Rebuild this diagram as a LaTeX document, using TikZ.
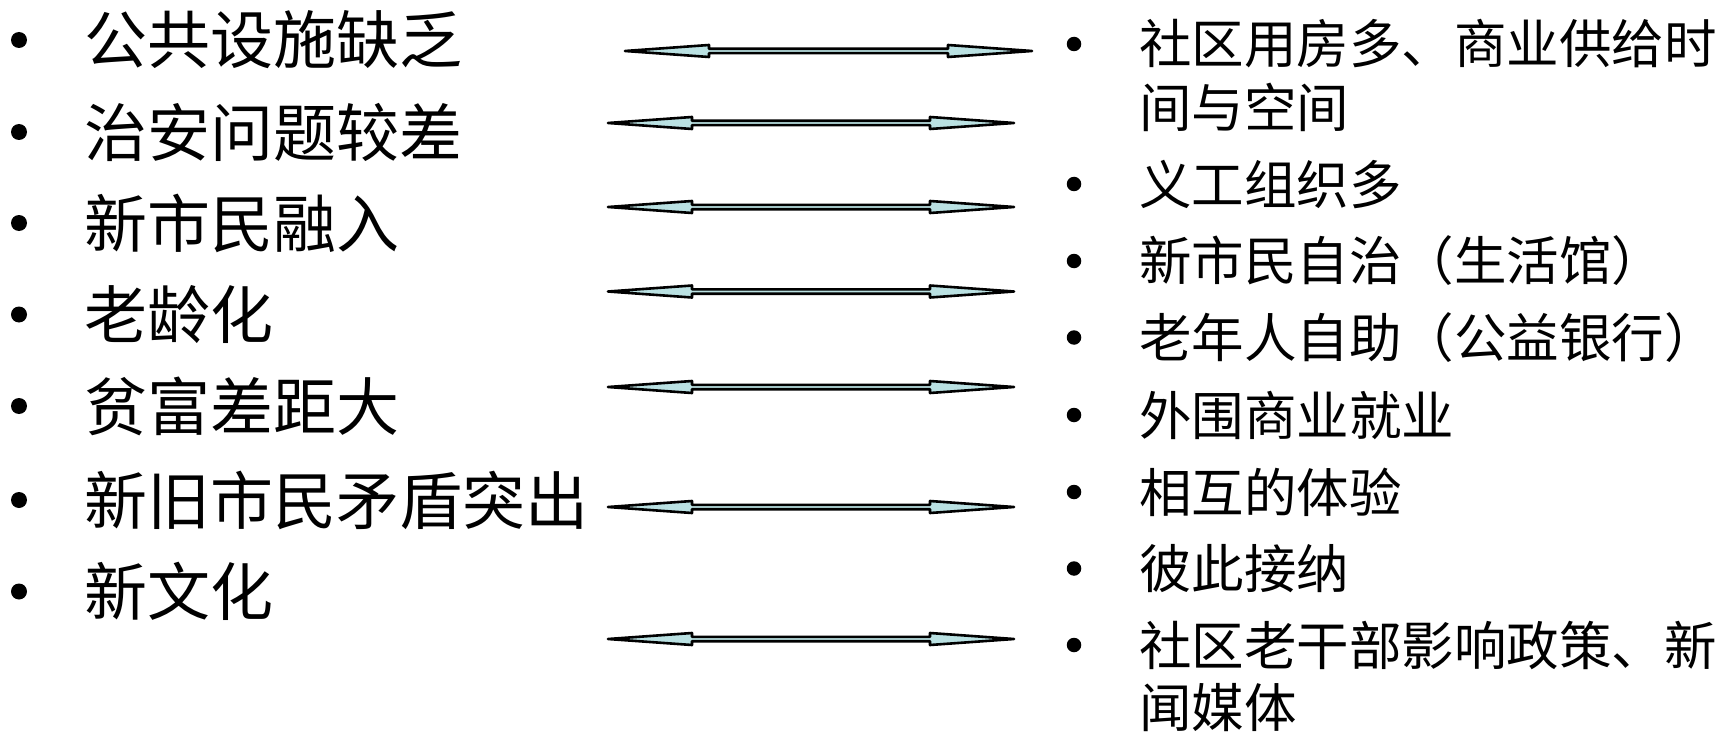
\documentclass[tikz,border=0pt]{standalone}
\usepackage{fontspec}
\setmainfont{Noto Sans CJK SC}
\usetikzlibrary{calc}
\definecolor{arrowcyan}{RGB}{186,225,226}
\tikzset{
  lefttxt/.style={anchor=west,inner sep=0pt,font=\fontsize{63pt}{63pt}\selectfont},
  righttxt/.style={anchor=west,inner sep=0pt,font=\fontsize{52.5pt}{52.5pt}\selectfont},
  bigdot/.style={circle,fill=black,inner sep=0pt,minimum size=16pt},
  smalldot/.style={circle,fill=black,inner sep=0pt,minimum size=14.5pt},
  dblarr/.style={draw=black,line width=2.6pt,fill=arrowcyan,line join=round}
}
\newcommand\biarrow[2]{%
  \draw[dblarr] let \p1=(#1), \p2=(#2) in
    (\x1,\y1) -- (\x1+84pt,\y1+6pt) -- (\x1+84pt,\y1+2.2pt) -- (\x2-84pt,\y1+2.2pt)
    -- (\x2-84pt,\y1+6pt) -- (\x2,\y1) -- (\x2-84pt,\y1-6pt) -- (\x2-84pt,\y1-2.2pt)
    -- (\x1+84pt,\y1-2.2pt) -- (\x1+84pt,\y1-6pt) -- cycle;}
\begin{document}
\begin{tikzpicture}[x=1pt,y=-1pt]
\useasboundingbox (0,0) rectangle (1725,733);
% left column
\node[bigdot] (lb1) at (19,40) {};
\node[lefttxt] (l1) at (84,40) {公共设施缺乏};
\node[bigdot] (lb2) at (19,132) {};
\node[lefttxt] (l2) at (84,132) {治安问题较差};
\node[bigdot] (lb3) at (19,223) {};
\node[lefttxt] (l3) at (84,223) {新市民融入};
\node[bigdot] (lb4) at (19,314.5) {};
\node[lefttxt] (l4) at (84,314.5) {老龄化};
\node[bigdot] (lb5) at (19,406) {};
\node[lefttxt] (l5) at (84,406) {贫富差距大};
\node[bigdot] (lb6) at (19,500) {};
\node[lefttxt] (l6) at (84,500) {新旧市民矛盾突出};
\node[bigdot] (lb7) at (19,591.5) {};
\node[lefttxt] (l7) at (84,591.5) {新文化};
% right column
\node[smalldot] (rb1) at (1074,44) {};
\node[righttxt] (r1) at (1139,44) {社区用房多、商业供给时};
\node[righttxt] (r1b) at (1139,107) {间与空间};
\node[smalldot] (rb2) at (1074,184) {};
\node[righttxt] (r2) at (1139,184) {义工组织多};
\node[smalldot] (rb3) at (1074,261) {};
\node[righttxt] (r3) at (1139,261) {新市民自治（生活馆）};
\node[smalldot] (rb4) at (1074,337.5) {};
\node[righttxt] (r4) at (1139,337.5) {老年人自助（公益银行）};
\node[smalldot] (rb5) at (1074,415) {};
\node[righttxt] (r5) at (1139,415) {外围商业就业};
\node[smalldot] (rb6) at (1074,492) {};
\node[righttxt] (r6) at (1139,492) {相互的体验};
\node[smalldot] (rb7) at (1074,568.5) {};
\node[righttxt] (r7) at (1139,568.5) {彼此接纳};
\node[smalldot] (rb8) at (1074,645) {};
\node[righttxt] (r8) at (1139,645) {社区老干部影响政策、新};
\node[righttxt] (r8b) at (1139,708) {闻媒体};
% arrows
\coordinate (a1L) at (625,51); \coordinate (a1R) at (1032,51);
\coordinate (a2L) at (608,123); \coordinate (a2R) at (1014,123);
\coordinate (a3L) at (608,207); \coordinate (a3R) at (1014,207);
\coordinate (a4L) at (608,291.5); \coordinate (a4R) at (1014,291.5);
\coordinate (a5L) at (608,387); \coordinate (a5R) at (1014,387);
\coordinate (a6L) at (608,507); \coordinate (a6R) at (1014,507);
\coordinate (a7L) at (608,639); \coordinate (a7R) at (1014,639);
\biarrow{a1L}{a1R}
\biarrow{a2L}{a2R}
\biarrow{a3L}{a3R}
\biarrow{a4L}{a4R}
\biarrow{a5L}{a5R}
\biarrow{a6L}{a6R}
\biarrow{a7L}{a7R}
\end{tikzpicture}
\end{document}
